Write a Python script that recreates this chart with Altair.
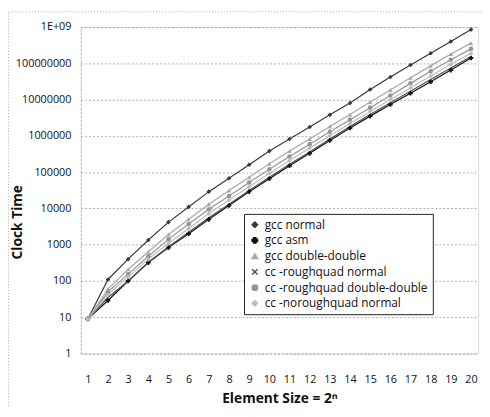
import altair as alt
import pandas as pd

n_vals = list(range(1, 21))

series_names = [
    "gcc normal",
    "gcc asm",
    "gcc double-double",
    "cc -roughquad normal",
    "cc -roughquad double-double",
    "cc -noroughquad normal",
]

gcc_normal = [9, 110, 400, 1350, 4200, 11000, 29000, 68000, 160000, 380000,
              820000, 1.75e6, 3.8e6, 8e6, 1.9e7, 4.2e7, 9e7, 1.9e8, 4e8, 8.5e8]
gcc_asm = [9, 29, 100, 320, 830, 2000, 5000, 12000, 29000, 66000,
           1.5e5, 3.3e5, 7.5e5, 1.65e6, 3.5e6, 7.3e6, 1.5e7, 3.1e7, 6.5e7, 1.4e8]
gcc_dd = [9, 60, 210, 640, 1900, 5000, 13000, 31000, 72000, 170000,
          3.8e5, 8.2e5, 1.8e6, 3.9e6, 8.6e6, 1.85e7, 4e7, 8.5e7, 1.8e8, 3.6e8]
cc_rq_normal = [9, 35, 100, 330, 880, 2200, 5500, 13000, 31000, 72000,
                1.65e5, 3.6e5, 8.2e5, 1.8e6, 3.9e6, 8.2e6, 1.7e7, 3.6e7, 7.4e7, 1.55e8]
cc_rq_dd = [9, 50, 155, 480, 1400, 3700, 9500, 22000, 52000, 120000,
            2.7e5, 5.9e5, 1.3e6, 2.8e6, 6e6, 1.3e7, 2.8e7, 6e7, 1.25e8, 2.5e8]
cc_norq_normal = [9, 42, 130, 400, 1100, 2800, 7200, 17000, 40000, 92000,
                  2.1e5, 4.6e5, 1e6, 2.2e6, 4.7e6, 1e7, 2.1e7, 4.5e7, 9.4e7, 1.9e8]

all_series = [gcc_normal, gcc_asm, gcc_dd, cc_rq_normal, cc_rq_dd, cc_norq_normal]

rows = []
for name, vals in zip(series_names, all_series):
    for n, v in zip(n_vals, vals):
        rows.append({"n": n, "time": v, "series": name})
df = pd.DataFrame(rows)

colors = ["#3a3a3a", "#111111", "#a8a8a8", "#505050", "#959595", "#bcbcbc"]
shapes = ["diamond", "cross", "triangle-up",
          "M-1,-1L1,1M1,-1L-1,1", "circle", "diamond"]

FONT = "Open Sans"
y_ticks = [1, 10, 100, 1000, 10000, 100000, 1000000, 10000000, 100000000, 1000000000]

lines = alt.Chart(df).mark_line(
    strokeWidth=1.2,
    point=alt.OverlayMarkDef(size=22, filled=True, strokeWidth=1),
).encode(
    x=alt.X("n:O", scale=alt.Scale(type="point", padding=0.35),
            axis=alt.Axis(title="Element Size = 2ⁿ", labelAngle=0,
                          labelFontSize=11, labelFont=FONT, labelColor="#111",
                          labelPadding=20, ticks=False,
                          domainColor="#bbbbbb", domainDash=[2, 2],
                          titleFont=FONT, titleFontSize=14, titleFontWeight="bold",
                          titlePadding=8, titleColor="#111", grid=False)),
    y=alt.Y("time:Q", scale=alt.Scale(type="log", domain=[1, 1e9], nice=False),
            axis=alt.Axis(title="Clock Time", values=y_ticks,
                          labelExpr="datum.value >= 1e9 ? '1E+09' : format(datum.value, 'd')",
                          labelFontSize=11, labelFont=FONT, labelColor="#111",
                          labelPadding=10, ticks=False,
                          domainColor="#bbbbbb", domainDash=[2, 2],
                          grid=True, gridColor="#999999", gridDash=[2, 2], gridWidth=0.8,
                          titleFont=FONT, titleFontSize=14, titleFontWeight="bold",
                          titleColor="#111", titleX=-57, titleY=198)),
    color=alt.Color("series:N", sort=series_names,
                    scale=alt.Scale(domain=series_names, range=colors),
                    legend=alt.Legend(title=None, orient="none", legendX=166, legendY=190,
                                      labelFont=FONT, labelFontSize=12, labelColor="#111",
                                      fillColor="white", strokeColor="#222",
                                      padding=5, rowPadding=4, symbolSize=30,
                                      labelLimit=300)),
    shape=alt.Shape("series:N", sort=series_names,
                    scale=alt.Scale(domain=series_names, range=shapes)),
    order="n:O",
)

frame = alt.Chart(pd.DataFrame({"f": [0]})).mark_rect(
    fill=None, stroke="#aaaaaa", strokeDash=[1, 2], strokeWidth=1
).encode(
    x=alt.value(-73.5), x2=alt.value(440), y=alt.value(-15.5), y2=alt.value(420)
)

chart = alt.layer(frame, lines).properties(
    width=404,
    height=332,
    autosize=alt.AutoSizeParams(type="none"),
    padding={"left": 74, "top": 16, "right": 4, "bottom": 50},
).configure_view(stroke=None).configure(background="white")

chart.save("out.html", embed_options={"renderer": "svg", "actions": False})
